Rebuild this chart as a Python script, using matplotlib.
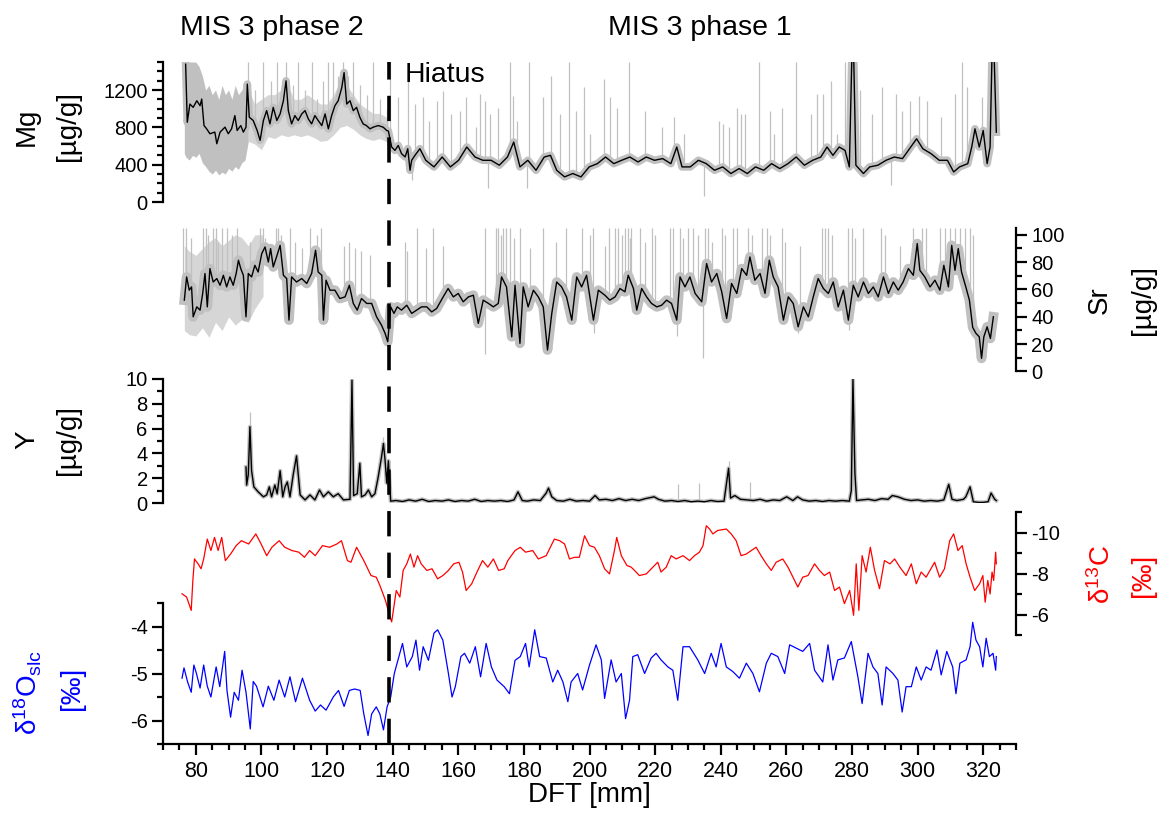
import numpy as np
import matplotlib
matplotlib.use('Agg')
import matplotlib.pyplot as plt
import matplotlib.transforms as mtransforms
from matplotlib.lines import Line2D
from matplotlib.ticker import MultipleLocator, FixedLocator

plt.rcParams['font.family'] = ['Liberation Sans', 'DejaVu Sans']
plt.rcParams['mathtext.fontset'] = 'custom'
plt.rcParams['mathtext.rm'] = 'Liberation Sans'
plt.rcParams['mathtext.it'] = 'Liberation Sans:italic'
plt.rcParams['axes.unicode_minus'] = False

GRAY = '#c0c0c0'
LIGHT = '#d6d6d6'
HIATUS = 138.8

# ---- Mg (smoothed, black) ----
mg_depth = [76.9, 77.4, 78.2, 79.2, 80.3, 81.3, 81.8, 82.5, 83.3, 84.3,
            85.8, 86.4, 87.4, 88.9, 89.9, 90.9, 91.9, 92.6, 93.7, 94.5,
            95.3, 95.7, 96.3, 97.5, 98.7, 99.6, 100.6, 101.6, 102.6, 103.6,
            104.7, 105.7, 106.7, 107.5, 108.2, 109.2, 110.2, 111.2, 112.3, 113.3,
            114.3, 115.3, 116.3, 117.3, 118.4, 119.4, 120.4, 121.4, 122.4, 123.4,
            124.5, 125.2, 126.0, 127.0, 128.0, 129.0, 130.0, 131.0, 132.0, 133.1,
            134.1, 135.6, 137.1, 138.2, 138.7, 139.7, 140.7, 141.7, 142.7, 143.8,
            144.6, 145.3, 145.8, 146.8, 148.3, 150.1, 152.6, 155.1, 157.6, 160.1,
            162.6, 165.1, 167.5, 170.0, 172.5, 175.0, 176.9, 178.8, 181.2, 183.7,
            186.2, 188.1, 190.0, 192.4, 194.9, 197.4, 199.9, 202.4, 204.9, 207.4,
            209.8, 212.3, 214.8, 217.3, 219.8, 222.3, 224.8, 226.6, 228.2, 230.7,
            233.2, 235.6, 238.1, 240.6, 243.1, 245.6, 248.1, 250.6, 253.1, 255.5,
            258.0, 260.5, 263.0, 265.5, 268.0, 270.5, 272.4, 274.2, 276.1, 277.9,
            279.2, 280.0, 280.5, 281.2, 283.5, 285.4, 287.9, 290.4, 292.9, 295.4,
            297.9, 299.7, 301.6, 304.1, 306.6, 309.1, 311.0, 312.8, 315.3, 316.5,
            317.5, 318.8, 320.0, 321.2, 322.1, 322.7, 323.3, 324.0]
mg_val = [1476, 854, 1050, 1014, 1085, 1032, 1103, 819, 784, 731,
          749, 624, 749, 802, 731, 784, 926, 766, 819, 749,
          802, 1263, 908, 873, 766, 660, 873, 979, 837, 1014,
          873, 944, 1085, 1298, 979, 837, 926, 873, 944, 979,
          890, 837, 926, 873, 819, 944, 784, 926, 1032, 1085,
          1227, 1387, 1050, 1085, 979, 1014, 908, 837, 819, 784,
          802, 819, 802, 766, 760, 589, 553, 606, 518, 483,
          571, 340, 447, 500, 571, 447, 376, 482, 376, 447,
          589, 482, 447, 447, 394, 482, 642, 376, 447, 340,
          482, 500, 340, 269, 305, 269, 376, 411, 482, 411,
          447, 482, 429, 482, 447, 465, 411, 589, 376, 376,
          447, 411, 340, 376, 305, 358, 305, 376, 340, 411,
          358, 411, 482, 394, 447, 482, 589, 500, 589, 553,
          376, 1600, 1600, 394, 305, 376, 394, 447, 482, 465,
          589, 677, 571, 518, 447, 447, 322, 376, 411, 589,
          784, 589, 766, 411, 589, 1600, 1600, 748]

# raw Mg scatter: dense band at the start, looser band after 96 mm, spikes
mg_band1_depth = [76.5, 77, 78, 79, 80, 81, 82, 83, 84, 85, 86, 87, 88, 89, 90, 91, 92, 93, 94, 95, 96]
mg_band1_lo = [520, 480, 450, 500, 480, 520, 420, 380, 330, 300, 340, 290, 320, 300, 360, 330, 380, 350,
               420, 450, 650]
mg_band1_hi = [1500, 1500, 1500, 1500, 1500, 1450, 1350, 1200, 1250, 1150, 1200, 1100, 1250, 1150, 1200,
               1100, 1250, 1150, 1200, 1250, 1200]
mg_band2_depth = [96, 98, 100, 102, 104, 106, 108, 110, 112, 114, 116, 118, 120, 122, 124, 126,
                  128, 130, 132, 134, 136, 138.6]
mg_band2_lo = [650, 620, 560, 700, 680, 720, 700, 720, 700, 720, 690, 650, 660, 720, 800, 820,
               780, 720, 680, 660, 680, 640]
mg_band2_hi = [1200, 1050, 1100, 1150, 1150, 1200, 1250, 1100, 1100, 1150, 1100, 1050, 1050, 1150,
               1300, 1250, 1150, 1050, 1000, 950, 950, 900]
mg_spike_depth = [96.0, 98.0, 100.6, 102.8, 104.6, 106.2, 107.5, 109.7, 111.2, 113.3,
                  115.3, 116.8, 118.7, 120.4, 121.9, 123.4, 125.0, 126.5, 128.0, 130.0,
                  132.1, 134.1, 136.1, 138.2, 139.3, 141.7, 144.8, 146.7, 149.2, 151.1,
                  153.6, 155.4, 157.9, 160.4, 162.3, 165.4, 166.6, 168.2, 169.7, 172.2,
                  175.9, 176.6, 177.8, 181.5, 185.9, 188.4, 190.9, 193.6, 195.8, 198.3,
                  200.2, 204.5, 206.4, 208.3, 212.0, 217.0, 222.0, 225.7, 228.8, 239.4,
                  240.6, 242.5, 245.0, 246.2, 247.5, 251.8, 254.9, 256.2, 258.7, 263.0,
                  267.4, 269.2, 271.1, 273.6, 275.4, 277.9, 282.3, 286.0, 289.1, 293.5,
                  295.3, 297.8, 300.3, 302.8, 307.2, 311.5, 313.4, 315.2, 319.6, 321.5]
mg_spike_top = [1500, 1200, 1500, 1300, 1500, 1150, 1500, 1250, 1500, 1200,
                1500, 1100, 1300, 1500, 1500, 1350, 1500, 1350, 1500, 1250,
                1150, 1500, 1100, 1000, 1500, 1120, 1330, 1050, 1120, 870,
                1085, 1190, 940, 980, 1120, 800, 1160, 1085, 940, 1010,
                1500, 1140, 870, 1500, 1120, 1350, 940, 1500, 980, 1230,
                730, 1320, 1120, 1010, 1500, 980, 800, 910, 730, 870,
                840, 800, 1010, 940, 940, 1500, 980, 730, 1010, 1500,
                940, 1160, 1160, 1300, 730, 1500, 1200, 940, 1230, 1160,
                980, 1085, 1140, 1085, 910, 1160, 1500, 1230, 1120, 910]
mg_dip_depth = [145.8, 169.1, 180.9, 235.0, 292.0]
mg_dip_bottom = [234, 149, 155, 60, 180]

# ---- Sr ----
sr_depth = [76.5, 77.2, 78.0, 78.7, 79.2, 80.3, 81.3, 82.1, 82.8, 83.5,
            84.3, 85.3, 86.4, 87.4, 88.4, 89.4, 90.4, 91.4, 92.3, 93.0,
            93.7, 94.5, 95.3, 96.0, 97.0, 98.0, 99.0, 100.1, 101.1, 102.1,
            102.8, 103.6, 104.6, 105.7, 106.7, 107.7, 108.4, 109.2, 110.7, 112.3,
            113.8, 115.3, 116.5, 117.3, 118.4, 118.9, 119.7, 120.9, 122.4, 123.9,
            125.5, 126.8, 128.0, 129.2, 130.5, 132.1, 133.6, 135.1, 136.6, 137.7,
            138.5, 139.4, 140.4, 141.4, 142.7, 144.3, 145.8, 147.3, 148.8, 150.4,
            151.9, 153.4, 155.4, 156.9, 158.5, 160.0, 161.5, 163.1, 164.6, 166.1,
            167.6, 169.2, 170.7, 172.2, 173.2, 174.7, 176.3, 177.3, 178.8, 179.8,
            181.3, 182.9, 184.4, 185.9, 187.2, 188.5, 190.0, 191.5, 193.0, 194.6,
            196.1, 197.6, 199.1, 200.1, 201.2, 202.7, 204.7, 206.2, 207.8, 209.3,
            210.8, 211.8, 213.4, 214.4, 215.9, 217.4, 218.9, 220.5, 222.0, 223.5,
            225.0, 226.6, 227.6, 229.1, 230.6, 232.2, 234.2, 235.7, 237.2, 238.8,
            240.3, 241.8, 243.3, 244.9, 246.4, 247.9, 248.9, 250.4, 252.0, 253.5,
            254.8, 256.0, 257.5, 259.1, 260.6, 262.1, 263.6, 265.2, 266.7, 268.2,
            269.7, 271.3, 272.8, 274.3, 275.8, 277.4, 278.9, 280.4, 281.9, 283.5,
            285.0, 286.5, 288.0, 289.6, 291.1, 292.6, 294.1, 295.6, 297.2, 298.7,
            299.9, 300.7, 302.2, 303.8, 305.3, 306.8, 308.0, 309.4, 310.4, 311.4,
            312.4, 313.4, 314.7, 315.8, 316.8, 317.8, 318.8, 319.5, 320.2, 321.2,
            322.2, 323.1]
sr_val = [52.2, 69.2, 59.5, 61.9, 40.0, 47.3, 44.9, 57.1, 71.7, 47.3,
          75.3, 65.5, 68.0, 63.1, 70.4, 61.9, 69.2, 63.1, 71.7, 81.4,
          75.3, 70.4, 40.0, 71.7, 69.2, 77.7, 72.8, 86.3, 91.1, 80.1,
          89.9, 76.5, 83.8, 92.3, 70.4, 68.0, 37.6, 69.2, 65.5, 68.0,
          64.4, 71.7, 88.7, 72.8, 70.4, 37.6, 66.8, 59.5, 59.5, 53.4,
          54.6, 63.1, 49.8, 44.9, 53.4, 49.8, 49.8, 40.0, 33.9, 27.9,
          21.8, 47.3, 42.5, 47.3, 44.9, 48.5, 42.5, 44.9, 47.3, 47.3,
          43.6, 46.1, 54.6, 60.7, 54.6, 57.1, 51.0, 54.6, 55.8, 35.2,
          52.2, 49.8, 47.3, 49.8, 69.2, 61.9, 25.4, 63.1, 20.6, 61.9,
          47.3, 59.5, 54.6, 47.3, 15.7, 42.5, 65.5, 61.9, 54.6, 37.6,
          69.2, 61.9, 70.4, 54.6, 37.6, 59.5, 55.8, 52.2, 54.6, 60.7,
          58.3, 70.4, 60.7, 44.9, 60.7, 54.6, 49.8, 47.3, 48.5, 52.2,
          49.8, 37.6, 69.2, 61.9, 69.2, 57.1, 51.0, 79.0, 65.5, 71.7,
          58.3, 38.8, 64.4, 57.1, 75.3, 70.4, 83.8, 66.8, 71.7, 57.1,
          81.4, 69.2, 61.9, 37.6, 54.6, 49.8, 32.7, 47.3, 40.0, 54.6,
          68.0, 60.7, 57.1, 65.5, 47.3, 59.5, 37.6, 63.1, 54.6, 65.5,
          57.1, 61.9, 54.6, 69.2, 57.1, 65.5, 59.5, 65.5, 75.3, 70.4,
          93.6, 74.0, 69.2, 61.9, 66.8, 59.5, 77.7, 61.9, 92.3, 74.0,
          89.9, 72.8, 61.9, 52.2, 32.3, 27.9, 25.4, 9.6, 25.4, 32.7,
          24.2, 40.0]

sr_band_depth = [76.5, 78, 80, 82, 84, 86, 88, 90, 92, 94, 96, 98, 100.5]
sr_band_lo = [30, 27, 26, 32, 25, 36, 30, 40, 34, 38, 36, 46, 55]
sr_band_hi = [92, 88, 85, 90, 95, 98, 92, 96, 100, 98, 92, 100, 100]
sr_spike_depth = [76.2, 77.0, 78.4, 82.3, 83.1, 83.8, 85.3, 86.2, 86.9, 87.9,
                  89.6, 90.9, 92.7, 96.5, 99.6, 100.4, 101.1, 104.4, 105.2, 105.9,
                  108.7, 110.3, 112.5, 114.8, 116.8, 118.1, 125.2, 126.8, 128.5, 130.2,
                  133.1, 143.8, 144.5, 147.3, 150.2, 152.2, 155.4, 168.1, 171.5, 172.2,
                  172.9, 173.7, 174.7, 175.8, 177.0, 178.8, 181.9, 185.9, 189.8, 192.8,
                  197.6, 200.1, 201.0, 204.7, 206.0, 207.8, 208.8, 209.8, 210.8, 211.8,
                  212.3, 212.8, 215.4, 216.9, 218.9, 220.0, 224.5, 225.3, 227.6, 228.6,
                  230.1, 231.6, 233.2, 235.2, 236.2, 237.2, 240.3, 241.3, 243.8, 244.9,
                  248.4, 249.4, 252.5, 254.0, 255.0, 258.6, 259.6, 264.2, 270.8, 271.8,
                  272.8, 273.8, 278.9, 279.9, 280.9, 283.5, 289.0, 290.1, 294.6, 298.7,
                  301.2, 302.7, 306.8, 308.3, 309.9, 311.4, 312.9, 314.5, 316.0, 317.0]
sr_spike_top = [105, 105, 98, 105, 105, 100, 105, 105, 95, 105,
                105, 100, 105, 95, 105, 105, 98, 105, 105, 100,
                105, 95, 90, 105, 100, 105, 92, 95, 90, 88,
                85, 95, 88, 105, 90, 105, 92, 105, 105, 105,
                100, 105, 105, 105, 98, 105, 90, 105, 95, 105,
                105, 100, 105, 92, 105, 105, 105, 100, 105, 105,
                98, 105, 105, 95, 105, 100, 105, 105, 105, 98,
                105, 105, 100, 105, 105, 95, 105, 100, 105, 105,
                105, 100, 105, 105, 100, 105, 95, 92, 105, 105,
                105, 100, 105, 105, 98, 105, 105, 100, 92, 105,
                105, 105, 105, 105, 105, 105, 105, 105, 105, 100]
sr_dip_depth = [168.0, 201.5, 226.6, 234.5, 263.5, 279.0, 319.5]
sr_dip_bottom = [13, 28, 26, 10, 28, 30, 8]

# ---- Y ----
y_depth = [95.3, 95.5, 96.0, 96.5, 97.0, 97.7, 99.0, 100.6, 101.6, 102.4,
           103.1, 104.1, 104.8, 105.7, 106.5, 107.2, 107.9, 108.7, 109.7, 110.7,
           111.8, 113.3, 114.8, 116.3, 117.7, 118.9, 120.4, 121.9, 123.4, 125.0,
           127.0, 127.6, 128.1, 129.2, 130.0, 130.5, 131.6, 132.6, 133.6, 134.6,
           135.6, 136.6, 137.2, 137.7, 138.2, 138.7,
           139.4, 141, 143, 145, 147, 149, 151, 153, 155, 157,
           159, 161, 163, 165, 167, 169, 171, 173, 175, 177,
           178.2, 179.5, 181, 183, 185, 186.8, 187.5, 188.5, 190, 192,
           194, 196, 198, 200, 201.7, 203, 205, 207, 209, 211,
           213, 215, 217, 219.7, 221, 223, 225, 227, 229, 231,
           233, 235, 237, 239, 241, 242.4, 243, 244.3, 246, 248,
           250, 252, 254, 256, 258, 260.1, 262, 263.4, 265, 267,
           269, 271, 273, 275, 277, 279.2, 279.8, 280.3, 280.9, 281.4,
           283, 285, 287, 289, 291, 292.3, 294, 296, 298, 300,
           302, 304, 306, 308, 309.5, 310.5, 312, 314, 314.7, 316,
           317, 318.5, 320, 321.5, 322.4, 323.5, 324]
y_val = [2.9, 1.45, 2.3, 6.15, 2.6, 1.3, 0.9, 0.5, 0.65, 1.3,
         0.5, 1.45, 0.75, 2.6, 0.5, 1.3, 1.7, 0.5, 2.3, 3.8,
         0.65, 0.25, 0.65, 0.25, 1.05, 0.5, 0.9, 0.5, 0.75, 0.25,
         0.3, 9.9, 0.6, 0.75, 3.2, 0.5, 0.65, 1.05, 0.5, 0.75,
         2.1, 3.7, 4.8, 3.4, 1.6, 3.4,
         0.15, 0.2, 0.12, 0.25, 0.15, 0.3, 0.12, 0.2, 0.15, 0.25,
         0.12, 0.2, 0.15, 0.3, 0.12, 0.2, 0.15, 0.2, 0.12, 0.25,
         0.9, 0.2, 0.15, 0.25, 0.2, 0.8, 1.2, 0.5, 0.2, 0.15,
         0.3, 0.15, 0.2, 0.15, 0.6, 0.25, 0.3, 0.2, 0.35, 0.2,
         0.3, 0.2, 0.35, 0.5, 0.3, 0.15, 0.2, 0.12, 0.2, 0.1,
         0.15, 0.1, 0.2, 0.12, 0.15, 2.8, 0.4, 0.6, 0.3, 0.25,
         0.2, 0.3, 0.15, 0.25, 0.2, 0.5, 0.2, 0.5, 0.25, 0.15,
         0.2, 0.12, 0.2, 0.15, 0.2, 0.15, 1.0, 10.0, 2.4, 0.2,
         0.25, 0.3, 0.2, 0.35, 0.3, 0.6, 0.5, 0.3, 0.2, 0.25,
         0.15, 0.2, 0.15, 0.25, 1.5, 0.3, 0.2, 0.3, 0.5, 1.3,
         0.1, 0.05, 0.05, 0.1, 0.8, 0.3, 0.2]
y_spike_depth = [96.5, 127.6, 137.2, 227.0, 233.3, 242.4, 248.9]
y_spike_top = [7.3, 10.0, 5.3, 1.5, 1.6, 3.4, 1.7]

# ---- d13C (red) ----
d13c_depth = [75.8, 77.2, 78.6, 79.1, 79.6, 80.7, 81.6, 82.4, 83.5, 84.6,
              85.7, 86.8, 87.9, 89.0, 90.6, 92.3, 93.9, 96.1, 98.3, 99.9,
              101.6, 103.2, 105.4, 107.1, 109.3, 111.4, 113.1, 114.7, 116.4, 118.6,
              120.8, 123.0, 124.4, 126.2, 127.3, 129.0, 131.2, 133.4, 135.0, 136.1,
              137.8, 138.9, 139.7, 141.1, 142.2, 143.2, 144.3, 145.4, 146.5, 147.6,
              148.7, 150.4, 152.0, 153.7, 155.3, 157.0, 158.6, 160.2, 161.3, 162.4,
              164.1, 165.7, 167.4, 169.0, 170.7, 172.3, 174.0, 175.1, 177.3, 178.9,
              180.5, 182.7, 184.4, 186.8, 189.3, 190.9, 192.4, 193.9, 195.4, 196.9,
              198.5, 200.0, 201.5, 203.0, 204.6, 206.1, 207.6, 208.3, 209.7, 211.4,
              212.7, 214.2, 215.2, 217.3, 219.3, 220.8, 221.8, 223.4, 224.9, 226.4,
              228.5, 230.5, 232.0, 233.5, 234.6, 235.6, 236.6, 237.6, 239.1, 241.7,
              243.2, 244.7, 246.2, 247.8, 249.3, 250.8, 252.3, 253.9, 255.4, 256.9,
              258.9, 260.5, 262.0, 263.5, 265.0, 266.6, 268.6, 270.1, 271.6, 273.2,
              274.7, 276.2, 277.7, 279.3, 280.5, 281.3, 282.1, 283.1, 284.3, 285.6,
              286.9, 288.4, 289.9, 291.6, 293.0, 294.6, 296.5, 298.1, 299.6, 301.1,
              302.6, 305.2, 306.7, 308.2, 309.8, 311.0, 312.3, 313.6, 314.8, 316.0,
              317.4, 318.9, 319.9, 320.6, 321.4, 322.1, 322.7, 323.2, 323.8, 324.0]
d13c_val = [-7.01, -6.85, -6.20, -7.66, -8.71, -8.47, -8.23, -8.71, -9.68, -9.12,
            -9.76, -9.12, -9.76, -8.63, -8.95, -9.36, -9.60, -9.44, -9.93, -9.44,
            -8.87, -9.28, -9.60, -9.28, -9.12, -9.04, -8.79, -9.12, -8.87, -9.36,
            -9.28, -9.44, -9.60, -8.63, -8.55, -9.28, -8.63, -7.90, -7.82, -7.42,
            -6.69, -6.04, -5.64, -7.17, -6.85, -8.15, -8.47, -8.95, -8.31, -8.87,
            -8.47, -8.15, -8.23, -7.74, -7.90, -8.15, -8.47, -8.55, -8.07, -7.17,
            -7.50, -8.07, -8.63, -8.31, -8.71, -8.15, -8.23, -8.63, -9.12, -9.28,
            -9.04, -9.12, -8.71, -8.87, -9.68, -9.60, -9.44, -8.71, -8.79, -8.79,
            -9.84, -9.36, -9.28, -8.87, -8.23, -7.98, -9.12, -9.76, -8.87, -8.39,
            -8.31, -8.07, -7.90, -7.98, -8.31, -8.55, -8.07, -8.31, -8.87, -8.71,
            -8.87, -8.63, -8.87, -9.04, -9.36, -10.33, -10.17, -9.93, -10.10, -10.17,
            -9.93, -9.60, -8.87, -8.95, -9.12, -9.28, -8.87, -8.47, -8.15, -8.55,
            -8.71, -8.31, -7.82, -7.34, -7.82, -7.90, -8.47, -8.15, -7.90, -8.07,
            -7.17, -7.34, -6.53, -7.17, -5.96, -8.47, -6.20, -8.87, -8.07, -9.28,
            -8.15, -7.26, -8.63, -8.47, -8.71, -8.31, -7.90, -8.47, -7.50, -8.07,
            -7.82, -8.55, -7.82, -8.23, -9.60, -9.93, -9.12, -9.36, -8.47, -7.82,
            -7.17, -7.50, -7.90, -6.60, -7.66, -7.00, -8.07, -7.66, -9.04, -8.47]

# ---- d18O (blue) ----
d18o_depth = [75.8, 76.4, 77.5, 78.6, 79.4, 80.2, 81.3, 82.4, 83.5, 84.6,
              86.2, 87.3, 88.8, 89.5, 90.6, 91.7, 93.0, 94.1, 95.3, 96.6,
              97.5, 98.5, 100.5, 102.1, 103.8, 105.4, 107.1, 108.7, 110.4, 112.5,
              114.7, 116.4, 118.0, 119.7, 121.9, 123.5, 125.2, 126.8, 128.4, 130.1,
              131.2, 132.5, 133.6, 135.0, 136.1, 137.2, 138.3, 139.4, 140.5, 141.6,
              143.0, 144.3, 146.0, 147.1, 148.2, 149.3, 150.9, 152.6, 153.7, 155.3,
              157.0, 158.1, 159.1, 160.8, 161.9, 163.5, 165.2, 166.8, 168.5, 170.1,
              171.8, 174.0, 175.6, 177.3, 178.9, 180.5, 181.6, 183.3, 184.8, 186.8,
              188.8, 190.3, 191.9, 193.4, 194.4, 196.4, 197.9, 200.0, 202.0, 203.6,
              204.6, 206.6, 208.1, 209.7, 211.0, 212.2, 213.2, 214.7, 216.8, 218.8,
              220.3, 221.8, 223.9, 225.4, 226.9, 228.5, 230.5, 233.0, 235.1, 237.1,
              238.6, 240.1, 241.7, 243.7, 245.7, 247.8, 249.8, 251.8, 253.9, 255.4,
              257.4, 259.5, 261.0, 263.0, 265.0, 267.1, 268.6, 271.1, 272.7, 274.2,
              275.7, 277.7, 279.8, 281.8, 283.1, 284.9, 286.4, 287.9, 289.2, 290.4,
              292.5, 294.0, 295.3, 296.5, 298.1, 299.6, 301.1, 302.6, 304.1, 305.9,
              307.2, 308.9, 310.7, 311.7, 312.9, 314.8, 316.0, 316.8, 317.8, 318.9,
              319.9, 320.9, 321.9, 323.0, 323.8, 324.0]
d18o_val = [-5.10, -4.88, -5.18, -5.40, -4.82, -5.00, -5.31, -4.82, -5.27, -5.50,
            -4.86, -5.28, -4.53, -5.36, -5.93, -5.40, -5.57, -4.93, -5.40, -6.18,
            -5.17, -5.27, -5.71, -5.27, -5.57, -5.14, -5.50, -5.07, -5.60, -5.10,
            -5.57, -5.80, -5.67, -5.78, -5.50, -5.36, -5.70, -5.36, -5.33, -5.36,
            -5.86, -6.32, -5.86, -5.71, -5.86, -6.20, -5.71, -5.50, -5.00, -4.72,
            -4.36, -4.86, -4.64, -4.29, -4.93, -4.43, -4.72, -4.14, -4.07, -4.29,
            -5.00, -5.50, -5.28, -4.64, -4.57, -4.78, -4.43, -5.07, -4.36, -4.86,
            -5.14, -5.28, -5.43, -4.72, -4.64, -4.36, -4.86, -4.07, -4.64, -4.67,
            -5.18, -4.93, -5.18, -5.60, -5.18, -5.00, -5.35, -4.82, -4.39, -4.71,
            -5.53, -4.71, -5.18, -5.00, -5.96, -5.57, -4.64, -4.60, -5.00, -4.67,
            -4.57, -4.71, -4.86, -4.93, -5.57, -4.43, -4.43, -4.71, -5.00, -4.57,
            -4.86, -4.36, -4.86, -4.96, -5.10, -4.78, -5.00, -5.39, -4.78, -4.57,
            -4.64, -5.00, -4.39, -4.46, -4.53, -4.36, -4.93, -5.18, -4.39, -5.14,
            -4.71, -4.67, -4.32, -5.07, -5.64, -4.57, -4.86, -5.00, -5.67, -4.86,
            -5.00, -5.14, -5.82, -5.28, -5.28, -4.86, -5.14, -4.86, -4.93, -4.50,
            -5.03, -4.53, -4.86, -5.43, -4.78, -4.71, -4.43, -3.91, -4.29, -4.43,
            -4.86, -4.25, -4.64, -4.57, -4.93, -4.64]

x_ticks = [80, 100, 120, 140, 160, 180, 200, 220, 240, 260, 280, 300, 320]

# ---------------------------------------------------------------------------
W_PX, H_PX = 1166, 819
fig = plt.figure(figsize=(W_PX / 100, H_PX / 100), dpi=100)
LEFT, RIGHT = 163, 1016


def panel(top, bottom):
    return fig.add_axes([LEFT / W_PX, 1 - bottom / H_PX, (RIGHT - LEFT) / W_PX, (bottom - top) / H_PX])


def style(ax, side, ylim, major, minor):
    for s in ax.spines.values():
        s.set_visible(False)
    ax.spines[side].set_visible(True)
    ax.spines[side].set_linewidth(1.6)
    ax.patch.set_visible(False)
    ax.set_xlim(70, 330)
    ax.set_ylim(*ylim)
    ax.set_xticks([])
    ax.yaxis.set_ticks_position(side)
    ax.yaxis.set_major_locator(FixedLocator(major))
    ax.yaxis.set_minor_locator(FixedLocator(minor))
    ax.tick_params(axis='y', which='major', length=8, width=1.6, labelsize=14.5, pad=3, direction='out')
    ax.tick_params(axis='y', which='minor', length=4.5, width=1.6, direction='out')


ax_mg = panel(62, 202)
ax_sr = panel(228, 371.5)
ax_y = panel(379, 503)
ax_c = panel(512, 635)
ax_o = panel(603, 744)

style(ax_mg, 'left', (0, 1500), [0, 400, 800, 1200], list(range(100, 1501, 100)))
style(ax_sr, 'right', (0, 105), [0, 20, 40, 60, 80, 100], [10, 30, 50, 70, 90])
style(ax_y, 'left', (0, 10), [0, 2, 4, 6, 8, 10], [1, 3, 5, 7, 9])
style(ax_c, 'right', (-5, -11), [-10, -8, -6], [-11, -9, -7, -5])
style(ax_o, 'left', (-6.5, -3.5), [-6, -5, -4], [-6.5, -5.5, -4.5, -3.5])

# x axis on the lowest panel
ax_o.spines['bottom'].set_visible(True)
ax_o.spines['bottom'].set_linewidth(1.6)
ax_o.set_xticks(x_ticks)
ax_o.xaxis.set_minor_locator(MultipleLocator(5))
ax_o.tick_params(axis='x', which='major', length=8, width=1.6, labelsize=15.5, pad=4)
ax_o.tick_params(axis='x', which='minor', length=4.5, width=1.6)
ax_o.set_xlabel('DFT [mm]', fontsize=20, labelpad=0)

# Mg
ax_mg.fill_between(mg_band1_depth, mg_band1_lo, mg_band1_hi, color=GRAY, lw=0)
ax_mg.fill_between(mg_band2_depth, mg_band2_lo, mg_band2_hi, color=LIGHT, lw=0)
ax_mg.plot(mg_depth, mg_val, color=GRAY, lw=5.5)
ax_mg.vlines(mg_spike_depth, np.interp(mg_spike_depth, mg_depth, mg_val), mg_spike_top, color=GRAY, lw=0.9)
ax_mg.vlines(mg_dip_depth, mg_dip_bottom, np.interp(mg_dip_depth, mg_depth, mg_val), color=GRAY, lw=0.9)
ax_mg.plot(mg_depth, mg_val, color='black', lw=1.0)

# Sr
ax_sr.fill_between(sr_band_depth, sr_band_lo, sr_band_hi, color=LIGHT, lw=0)
ax_sr.plot(sr_depth, sr_val, color=GRAY, lw=7)
ax_sr.vlines(sr_spike_depth, np.interp(sr_spike_depth, sr_depth, sr_val), sr_spike_top, color=GRAY, lw=0.9)
ax_sr.vlines(sr_dip_depth, sr_dip_bottom, np.interp(sr_dip_depth, sr_depth, sr_val), color=GRAY, lw=0.9)
ax_sr.plot(sr_depth, sr_val, color='black', lw=1.0)

# Y
ax_y.plot(y_depth, y_val, color=GRAY, lw=3)
ax_y.vlines(y_spike_depth, np.interp(y_spike_depth, y_depth, y_val), y_spike_top, color=GRAY, lw=0.9)
ax_y.plot(y_depth, y_val, color='black', lw=1.0)

# isotopes
ax_c.plot(d13c_depth, d13c_val, color='#ff0000', lw=0.9)
ax_o.plot(d18o_depth, d18o_val, color='#0000ff', lw=0.9)

# hiatus line across all panels
trans = mtransforms.blended_transform_factory(ax_o.transData, fig.transFigure)
fig.add_artist(Line2D([HIATUS, HIATUS], [1 - 744 / H_PX, 1 - 62 / H_PX], transform=trans,
                      color='black', lw=2.6, dashes=(7, 4.5)))


# axis labels
def vlabel(x, y, s, color='black'):
    fig.text(x / W_PX, 1 - y / H_PX, s, rotation=90, ha='center', va='center', fontsize=20, color=color)


vlabel(27, 127, 'Mg')
vlabel(68, 126, '[µg/g]')
vlabel(1100, 300, 'Sr')
vlabel(1143, 300, '[µg/g]')
vlabel(27, 440, 'Y')
vlabel(68, 440, '[µg/g]')
vlabel(1102, 575, 'δ$^{13}$C', color='#ff0000')
vlabel(1143, 575, '[‰]', color='#ff0000')
vlabel(28, 692, r'δ$^{18}$O$_{\mathrm{slc}}$', color='#0000ff')
vlabel(72, 688, '[‰]', color='#0000ff')

fig.text(272 / W_PX, 1 - 28 / H_PX, 'MIS 3 phase 2', ha='center', va='center', fontsize=20.5)
fig.text(700 / W_PX, 1 - 28 / H_PX, 'MIS 3 phase 1', ha='center', va='center', fontsize=20.5)
fig.text(405 / W_PX, 1 - 75 / H_PX, 'Hiatus', ha='left', va='center', fontsize=20.5)

fig.savefig('out.png', dpi=100)
